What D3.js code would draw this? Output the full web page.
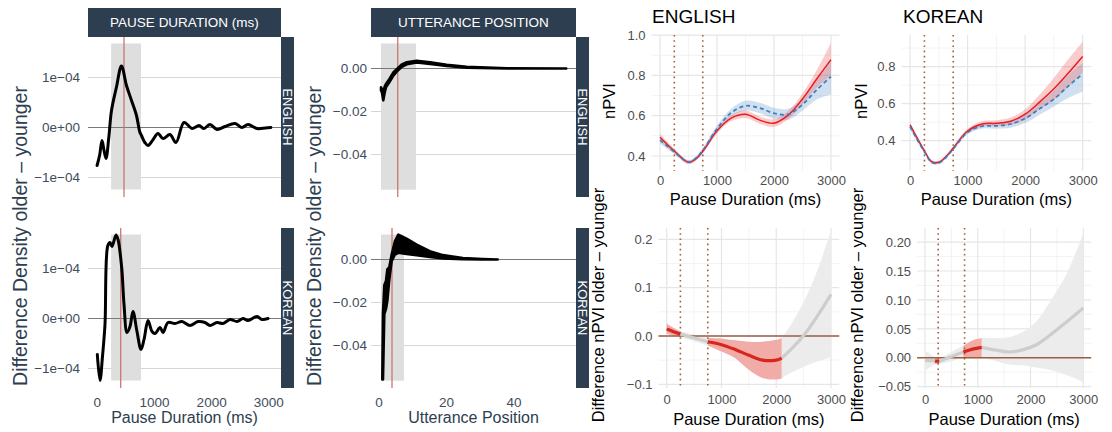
<!DOCTYPE html>
<html>
<head>
<meta charset="utf-8">
<script src="https://cdn.jsdelivr.net/npm/d3@7/dist/d3.min.js"></script>
<style>
html,body{margin:0;padding:0;background:#ffffff;}
svg{display:block;}
</style>
</head>
<body>
<script>
// ================= DATA =================
const languages = ["ENGLISH", "KOREAN"];
const densityStrips = ["PAUSE DURATION (ms)", "UTTERANCE POSITION"];
const densityYTitle = "Difference Density older – younger";
const diffYTitle = "Difference nPVI older – younger";
const npviYTitle = "nPVI";
const pdXTitle = "Pause Duration (ms)";
const upXTitle = "Utterance Position";

// Pause duration: density difference (older − younger)
const pdMsEN = [5, 50, 91, 125, 161, 210, 257, 344, 431, 519, 607, 694, 752, 781, 840, 896, 980, 1070, 1158, 1280, 1385, 1525, 1665, 1788, 1875, 1980, 2103, 2243, 2418, 2540, 2645, 2803, 2950, 3045];
const pdDiffEN = [-0.76e-4, -0.55e-4, -0.26e-4, -0.45e-4, -0.62e-4, -0.2e-4, 0.34e-4, 0.81e-4, 1.23e-4, 0.84e-4, 0.54e-4, 0.24e-4, -0.09e-4, -0.16e-4, -0.3e-4, -0.36e-4, -0.25e-4, -0.12e-4, -0.22e-4, -0.14e-4, -0.30e-4, 0.10e-4, -0.02e-4, 0.04e-4, -0.02e-4, 0.06e-4, -0.04e-4, 0.02e-4, 0.08e-4, 0.0, 0.06e-4, -0.02e-4, -0.01e-4, 0.0];
const pdMsKO = [9, 56, 100, 143, 191, 231, 266, 336, 371, 435, 476, 528, 581, 633, 703, 773, 826, 896, 966, 1019, 1106, 1158, 1246, 1368, 1490, 1630, 1770, 1893, 1980, 2103, 2208, 2330, 2453, 2558, 2645, 2802, 2890, 2995];
const pdDiffKO = [-0.72e-4, -1.24e-4, -0.75e-4, -0.12e-4, 1.45e-4, 1.52e-4, 1.44e-4, 1.67e-4, 1.58e-4, 1.02e-4, 0.28e-4, -0.28e-4, -0.16e-4, 0.14e-4, -0.26e-4, -0.62e-4, -0.42e-4, -0.04e-4, -0.26e-4, -0.30e-4, -0.18e-4, -0.28e-4, -0.08e-4, -0.1e-4, -0.06e-4, -0.14e-4, -0.06e-4, -0.08e-4, -0.14e-4, -0.08e-4, -0.1e-4, -0.02e-4, -0.06e-4, 0.0, -0.04e-4, 0.04e-4, -0.02e-4, 0.0];
const pdMarker = [476, 418];            // red vertical line (EN, KO)
const pdWindow = [250, 773];            // grey window (ms)
const pdWindowY = [-1.24e-4, 1.68e-4];

// Utterance position: density difference (upper / lower envelope of the jagged curve)
const upPosEN = [0.74, 1.0, 1.42, 1.8, 2.2, 3.2, 4.4, 5.4, 6.9, 8.4, 11.3, 15.3, 20.2, 26.1, 38, 55.6];
const upHiEN = [-0.0088, -0.0095, -0.0125, -0.0085, -0.0072, -0.005, -0.0019, -0.0003, 0.0019, 0.0029, 0.0036, 0.0029, 0.0017, 0.0008, 0.0001, 0];
const upLoEN = [-0.0102, -0.011, -0.0148, -0.0115, -0.0088, -0.0064, -0.0033, -0.0015, 0.0008, 0.0019, 0.0028, 0.0021, 0.0011, 0.0004, 0, 0];
const upPosKO = [1.13, 1.33, 1.72, 2.22, 2.62, 3.21, 3.9, 4.88, 5.87, 8.3, 11.3, 15.2, 19.1, 25, 30.9, 35.3];
const upHiKO = [-0.0557, -0.0254, -0.012, -0.010, -0.0046, -0.0035, 0.0023, 0.0085, 0.0115, 0.0097, 0.0069, 0.0038, 0.0020, 0.0006, 0.0002, 0];
const upLoKO = [-0.0557, -0.0557, -0.0254, -0.023, -0.0192, -0.0092, -0.0008, 0.0023, 0.0031, 0.0026, 0.0020, 0.0011, 0.0005, 0.0001, 0, 0];
const upMarker = [5.7, 4.0];
const upWindowEN = [0.75, 11.1];
const upWindowKO = [0.75, 7.55];
const upWindowY = [-0.0563, 0.0116];

// Tick values / labels (left block)
const pdYTicks = [-1e-4, 0, 1e-4];
const pdYLabels = ["−1e−04", "0e+00", "1e−04"];
const pdXTicks = [0, 1000, 2000, 3000];
const upYTicks = [-0.04, -0.02, 0];
const upYLabels = ["−0.04", "−0.02", "0.00"];
const upXTicks = [0, 20, 40];

// nPVI by pause duration (older = red solid, younger = blue dashed)
const npviMsEN = [0, 250, 500, 625, 750, 1000, 1250, 1500, 1750, 2000, 2250, 2500, 2750, 3000];
const npviOldEN = [0.493, 0.425, 0.369, 0.385, 0.423, 0.525, 0.588, 0.607, 0.578, 0.563, 0.603, 0.683, 0.782, 0.878];
const npviOldLoEN = [0.475, 0.413, 0.360, 0.376, 0.412, 0.510, 0.572, 0.588, 0.560, 0.545, 0.583, 0.655, 0.740, 0.800];
const npviOldHiEN = [0.510, 0.437, 0.378, 0.394, 0.434, 0.540, 0.604, 0.626, 0.596, 0.582, 0.623, 0.710, 0.825, 0.962];
const npviYoungEN = [0.479, 0.420, 0.370, 0.388, 0.428, 0.535, 0.615, 0.649, 0.638, 0.612, 0.607, 0.655, 0.728, 0.794];
const npviYoungLoEN = [0.462, 0.410, 0.360, 0.378, 0.415, 0.518, 0.595, 0.625, 0.612, 0.585, 0.580, 0.625, 0.680, 0.705];
const npviYoungHiEN = [0.496, 0.430, 0.380, 0.398, 0.440, 0.552, 0.635, 0.674, 0.664, 0.640, 0.635, 0.685, 0.776, 0.865];

const npviMsKO = [0, 250, 375, 500, 625, 750, 1000, 1250, 1500, 1750, 2000, 2250, 2500, 2750, 3000];
const npviOldKO = [0.485, 0.345, 0.287, 0.283, 0.314, 0.360, 0.452, 0.490, 0.494, 0.505, 0.543, 0.608, 0.680, 0.765, 0.855];
const npviOldLoKO = [0.470, 0.335, 0.279, 0.275, 0.305, 0.350, 0.440, 0.475, 0.478, 0.485, 0.515, 0.570, 0.620, 0.690, 0.770];
const npviOldHiKO = [0.500, 0.355, 0.295, 0.291, 0.323, 0.370, 0.465, 0.505, 0.510, 0.525, 0.570, 0.648, 0.740, 0.840, 0.935];
const npviYoungKO = [0.475, 0.340, 0.283, 0.280, 0.310, 0.355, 0.445, 0.478, 0.480, 0.490, 0.520, 0.572, 0.625, 0.695, 0.760];
const npviYoungLoKO = [0.460, 0.330, 0.275, 0.272, 0.301, 0.345, 0.435, 0.465, 0.465, 0.470, 0.495, 0.540, 0.585, 0.630, 0.665];
const npviYoungHiKO = [0.490, 0.350, 0.291, 0.288, 0.319, 0.365, 0.458, 0.492, 0.495, 0.510, 0.545, 0.605, 0.670, 0.755, 0.820];

// Difference nPVI (older − younger) with CI; sig = where the CI excludes zero
const diffMsEN = [0, 125, 250, 500, 750, 1000, 1250, 1500, 1750, 2000, 2100, 2250, 2500, 2750, 3000];
const diffEstEN = [0.0145, 0.009, 0.004, -0.004, -0.012, -0.018, -0.028, -0.040, -0.050, -0.050, -0.046, -0.030, 0.001, 0.041, 0.086];
const diffLoEN = [0.004, 0.001, -0.002, -0.011, -0.020, -0.032, -0.046, -0.070, -0.087, -0.090, -0.088, -0.077, -0.064, -0.053, -0.044];
const diffHiEN = [0.026, 0.017, 0.010, 0.003, -0.004, -0.005, -0.009, -0.012, -0.012, -0.008, -0.004, 0.020, 0.070, 0.135, 0.218];
const diffSigEN = [[0, 250], [750, 2100]];

const diffMsKO = [0, 95, 190, 230, 270, 500, 726, 900, 1074, 1358, 1610, 1862, 2100, 2367, 2683, 3000];
const diffEstKO = [-0.005, -0.005, -0.005, -0.006, -0.006, 0.002, 0.010, 0.015, 0.018, 0.013, 0.010, 0.014, 0.022, 0.039, 0.062, 0.086];
const diffLoKO = [-0.022, -0.017, -0.011, -0.011, -0.011, -0.006, 0.0005, 0.001, 0.001, -0.006, -0.012, -0.013, -0.017, -0.021, -0.030, -0.042];
const diffHiKO = [0.012, 0.007, 0.0005, -0.001, -0.001, 0.010, 0.021, 0.030, 0.034, 0.034, 0.036, 0.045, 0.062, 0.097, 0.145, 0.215];
const diffSigKO = [[190, 270], [726, 1074]];

const windowLines = [250, 750];   // dotted vertical lines

const msTicks = [0, 1000, 2000, 3000];
const msMinor = [500, 1500, 2500];
const npviTicksEN = [0.4, 0.6, 0.8, 1.0];
const npviLabelsEN = ["0.4", "0.6", "0.8", "1.0"];
const npviMinorEN = [0.5, 0.7, 0.9];
const npviTicksKO = [0.4, 0.6, 0.8];
const npviLabelsKO = ["0.4", "0.6", "0.8"];
const npviMinorKO = [0.3, 0.5, 0.7, 0.9];
const diffTicksEN = [-0.1, 0, 0.1, 0.2];
const diffLabelsEN = ["−0.1", "0.0", "0.1", "0.2"];
const diffMinorEN = [-0.05, 0.05, 0.15];
const diffTicksKO = [-0.05, 0, 0.05, 0.1, 0.15, 0.2];
const diffLabelsKO = ["−0.05", "0.00", "0.05", "0.10", "0.15", "0.20"];
const diffMinorKO = [-0.025, 0.025, 0.075, 0.125, 0.175];

// ================= STYLE =================
const FONT = '"Liberation Sans", Arial, Helvetica, sans-serif';
const SLATE = "#2c3e50";
const SLATE_TICK = "#3f4d5b";
const BROWN = "#a0603c";

const svg = d3.select("body").append("svg")
  .attr("width", 1112).attr("height", 432)
  .style("font-family", FONT);

function txt(x, y, s, o = {}) {
  const t = svg.append("text")
    .attr("x", x).attr("y", y).text(s)
    .attr("font-size", o.size || 13)
    .attr("fill", o.fill || "#000")
    .attr("text-anchor", o.anchor || "start")
    .attr("font-family", FONT);
  if (o.rot) t.attr("transform", `rotate(${o.rot},${x},${y})`);
  if (o.db) t.attr("dominant-baseline", o.db);
  return t;
}

function styleAxis(g, color, size) {
  g.select(".domain").remove();
  g.selectAll(".tick line").remove();
  g.selectAll("text").attr("fill", color).attr("font-size", size).attr("font-family", FONT);
}

// ================= LEFT BLOCK (density differences) =================
const colGeom = [
  { x0: 88, x1: 281, sx1: 294, yPad: 8, titleX: 27 },
  { x0: 371, x1: 576, sx1: 589, yPad: 4, titleX: 321 }
];
const rowGeom = [ { y0: 37, y1: 197 }, { y0: 228, y1: 388 } ];

const colDefs = [
  {
    xDom: [-154, 3222], yDom: [-1.39e-4, 1.81e-4],
    yTicks: pdYTicks, yLabels: pdYLabels, xTicks: pdXTicks, xTitle: pdXTitle,
    rows: [
      { win: pdWindow, marker: pdMarker[0], draw: (g, x, y) => drawLine(g, x, y, pdMsEN, pdDiffEN) },
      { win: pdWindow, marker: pdMarker[1], draw: (g, x, y) => drawLine(g, x, y, pdMsKO, pdDiffKO) }
    ], winY: pdWindowY
  },
  {
    xDom: [-2.22, 58.5], yDom: [-0.0597, 0.0146],
    yTicks: upYTicks, yLabels: upYLabels, xTicks: upXTicks, xTitle: upXTitle,
    rows: [
      { win: upWindowEN, marker: upMarker[0], draw: (g, x, y) => drawBand(g, x, y, upPosEN, upLoEN, upHiEN) },
      { win: upWindowKO, marker: upMarker[1], draw: (g, x, y) => drawBand(g, x, y, upPosKO, upLoKO, upHiKO) }
    ], winY: upWindowY
  }
];

function drawLine(g, x, y, xs, ys) {
  const line = d3.line().x((d, i) => x(xs[i])).y(d => y(d)).curve(d3.curveCatmullRom.alpha(0.5));
  g.append("path").attr("d", line(ys)).attr("fill", "none")
    .attr("stroke", "#000").attr("stroke-width", 3).attr("stroke-linejoin", "round").attr("stroke-linecap", "round");
}
function drawBand(g, x, y, xs, lo, hi) {
  const area = d3.area().x((d, i) => x(xs[i])).y0((d, i) => y(lo[i])).y1((d, i) => y(hi[i]));
  g.append("path").attr("d", area(xs)).attr("fill", "#000")
    .attr("stroke", "#000").attr("stroke-width", 2.6).attr("stroke-linejoin", "round");
}

colDefs.forEach((cd, ci) => {
  const cg = colGeom[ci];
  // top strip
  svg.append("rect").attr("x", cg.x0).attr("y", 8).attr("width", cg.x1 - cg.x0).attr("height", 29).attr("fill", SLATE);
  txt((cg.x0 + cg.x1) / 2, 27, densityStrips[ci], { fill: "#ffffff", anchor: "middle", size: 13.5 });
  const x = d3.scaleLinear().domain(cd.xDom).range([cg.x0, cg.x1]);
  rowGeom.forEach((rg, ri) => {
    const y = d3.scaleLinear().domain(cd.yDom).range([rg.y1, rg.y0]);
    const rd = cd.rows[ri];
    const g = svg.append("g");
    g.selectAll("line.grid").data(cd.yTicks).join("line").attr("class", "grid")
      .attr("x1", cg.x0).attr("x2", cg.x1).attr("y1", d => y(d)).attr("y2", d => y(d))
      .attr("stroke", "#d6d6d6").attr("stroke-width", 1);
    g.append("rect").attr("x", x(rd.win[0])).attr("width", x(rd.win[1]) - x(rd.win[0]))
      .attr("y", y(cd.winY[1])).attr("height", y(cd.winY[0]) - y(cd.winY[1])).attr("fill", "#dedede");
    g.append("line").attr("x1", cg.x0).attr("x2", cg.x1).attr("y1", y(0)).attr("y2", y(0))
      .attr("stroke", "#7a7a7a").attr("stroke-width", 1.1);
    g.append("line").attr("x1", x(rd.marker)).attr("x2", x(rd.marker)).attr("y1", rg.y0).attr("y2", rg.y1)
      .attr("stroke", "#c9786d").attr("stroke-width", 1.3);
    rd.draw(g, x, y);
    // right strip
    svg.append("rect").attr("x", cg.x1).attr("y", rg.y0).attr("width", cg.sx1 - cg.x1).attr("height", rg.y1 - rg.y0).attr("fill", SLATE);
    txt((cg.x1 + cg.sx1) / 2, (rg.y0 + rg.y1) / 2, languages[ri], { fill: "#ffffff", anchor: "middle", size: 13, rot: 90, db: "central" });
    // y axis
    const ay = svg.append("g").attr("transform", `translate(${cg.x0},0)`)
      .call(d3.axisLeft(y).tickValues(cd.yTicks).tickFormat((d, i) => cd.yLabels[i]).tickSize(0).tickPadding(cg.yPad));
    styleAxis(ay, SLATE_TICK, 13.5);
    if (ri === 1) {
      const ax = svg.append("g").attr("transform", `translate(0,${rg.y1})`)
        .call(d3.axisBottom(x).tickValues(cd.xTicks).tickFormat(d3.format("d")).tickSize(0).tickPadding(9));
      styleAxis(ax, SLATE_TICK, 13.5);
    }
  });
  txt((cg.x0 + cg.x1) / 2, 423, cd.xTitle, { fill: SLATE, anchor: "middle", size: 16 });
  txt(cg.titleX, 236, densityYTitle, { fill: SLATE, anchor: "middle", size: 19.5, rot: -90 });
});

// ================= RIGHT BLOCK (nPVI) =================
function rows(ms, a, b, c) { return ms.map((m, i) => ({ m, est: a[i], lo: b[i], hi: c[i] })); }

function rightPanel(p) {
  const x = d3.scaleLinear().domain(p.xDom).range([p.x0, p.x1]);
  const y = d3.scaleLinear().domain(p.yDom).range([p.y1, p.y0]);
  const g = svg.append("g");
  const hl = (vals, col, w) => g.append("g").selectAll("line").data(vals).join("line")
    .attr("x1", p.x0).attr("x2", p.x1).attr("y1", d => y(d)).attr("y2", d => y(d)).attr("stroke", col).attr("stroke-width", w);
  const vl = (vals, col, w) => g.append("g").selectAll("line").data(vals).join("line")
    .attr("y1", p.y0).attr("y2", p.y1).attr("x1", d => x(d)).attr("x2", d => x(d)).attr("stroke", col).attr("stroke-width", w);
  hl(p.yMinor, "#f0f0f0", 0.8); vl(msMinor, "#f0f0f0", 0.8);
  hl(p.yTicks, "#e6e6e6", 1.2); vl(msTicks, "#e6e6e6", 1.2);
  p.draw(g, x, y);
  const ay = svg.append("g").attr("transform", `translate(${p.x0},0)`)
    .call(d3.axisLeft(y).tickValues(p.yTicks).tickFormat((d, i) => p.yLabels[i]).tickSize(0).tickPadding(6));
  styleAxis(ay, "#4d4d4d", 13);
  const ax = svg.append("g").attr("transform", `translate(0,${p.y1})`)
    .call(d3.axisBottom(x).tickValues(msTicks).tickFormat(d3.format("d")).tickSize(0).tickPadding(p.xPad));
  styleAxis(ax, "#4d4d4d", 13);
  txt((p.x0 + p.x1) / 2, p.xTitleY, pdXTitle, { anchor: "middle", size: 16.5 });
  txt(p.yTitleX, p.yTitleY, p.yTitle, { anchor: "middle", size: 16.5, rot: -90 });
  return { x, y };
}

function dotted(g, x, y0, y1) {
  g.append("g").selectAll("line").data(windowLines).join("line")
    .attr("x1", d => x(d)).attr("x2", d => x(d)).attr("y1", y0).attr("y2", y1)
    .attr("stroke", BROWN).attr("stroke-width", 1.6).attr("stroke-dasharray", "1.6,3.6");
}

function drawNpvi(g, x, y, ms, o, oLo, oHi, yo, yLo, yHi, p) {
  const R = rows(ms, o, oLo, oHi), B = rows(ms, yo, yLo, yHi);
  const area = d3.area().x(d => x(d.m)).y0(d => y(d.lo)).y1(d => y(d.hi)).curve(d3.curveCatmullRom);
  const line = d3.line().x(d => x(d.m)).y(d => y(d.est)).curve(d3.curveCatmullRom);
  g.append("path").attr("d", area(B)).attr("fill", "#4a86c5").attr("fill-opacity", 0.26);
  g.append("path").attr("d", area(R)).attr("fill", "#ec4a4a").attr("fill-opacity", 0.28);
  dotted(g, x, p.y0, p.y1);
  g.append("path").attr("d", line(R)).attr("fill", "none").attr("stroke", "#ea1c22").attr("stroke-width", 1.5);
  g.append("path").attr("d", line(B)).attr("fill", "none").attr("stroke", "#3a7dc1").attr("stroke-width", 1.7).attr("stroke-dasharray", "4,3");
}

function drawDiff(g, x, y, ms, est, lo, hi, sig, p) {
  const R = rows(ms, est, lo, hi);
  const first = ms[0], last = ms[ms.length - 1];
  const non = [];
  let cur = first;
  sig.forEach(s => { if (s[0] > cur) non.push([cur, s[0]]); cur = s[1]; });
  if (cur < last) non.push([cur, last]);
  const seg = r => R.filter(d => d.m >= r[0] && d.m <= r[1]);
  const area = d3.area().x(d => x(d.m)).y0(d => y(d.lo)).y1(d => y(d.hi)).curve(d3.curveCatmullRom);
  const line = d3.line().x(d => x(d.m)).y(d => y(d.est)).curve(d3.curveCatmullRom);
  non.forEach(r => g.append("path").attr("d", area(seg(r))).attr("fill", "#ececec"));
  sig.forEach(r => g.append("path").attr("d", area(seg(r))).attr("fill", "#f2aca7"));
  g.append("line").attr("x1", p.x0).attr("x2", p.x1).attr("y1", y(0)).attr("y2", y(0))
    .attr("stroke", "#9a5f3f").attr("stroke-width", 1.3);
  dotted(g, x, p.y0, p.y1);
  non.forEach(r => g.append("path").attr("d", line(seg(r))).attr("fill", "none").attr("stroke", "#cdcdcd").attr("stroke-width", 3.2));
  sig.forEach(r => g.append("path").attr("d", line(seg(r))).attr("fill", "none").attr("stroke", "#d7261e").attr("stroke-width", 3.2));
}

const pEN = { x0: 651.5, x1: 839.5, y0: 35, y1: 171, xDom: [-150, 3150], yDom: [0.3256, 1.0005],
  yTicks: npviTicksEN, yLabels: npviLabelsEN, yMinor: npviMinorEN, xPad: 5, xTitleY: 205,
  yTitle: npviYTitle, yTitleX: 615, yTitleY: 101 };
pEN.draw = (g, x, y) => drawNpvi(g, x, y, npviMsEN, npviOldEN, npviOldLoEN, npviOldHiEN, npviYoungEN, npviYoungLoEN, npviYoungHiEN, pEN);
rightPanel(pEN);

const pKO = { x0: 901.4, x1: 1091.3, y0: 35, y1: 171, xDom: [-150, 3150], yDom: [0.236, 0.971],
  yTicks: npviTicksKO, yLabels: npviLabelsKO, yMinor: npviMinorKO, xPad: 5, xTitleY: 205,
  yTitle: npviYTitle, yTitleX: 867, yTitleY: 101 };
pKO.draw = (g, x, y) => drawNpvi(g, x, y, npviMsKO, npviOldKO, npviOldLoKO, npviOldHiKO, npviYoungKO, npviYoungLoKO, npviYoungHiKO, pKO);
rightPanel(pKO);

const dEN = { x0: 658.5, x1: 839.2, y0: 228, y1: 388, xDom: [-150, 3150], yDom: [-0.1077, 0.2236],
  yTicks: diffTicksEN, yLabels: diffLabelsEN, yMinor: diffMinorEN, xPad: 7, xTitleY: 425,
  yTitle: diffYTitle, yTitleX: 604, yTitleY: 305 };
dEN.draw = (g, x, y) => drawDiff(g, x, y, diffMsEN, diffEstEN, diffLoEN, diffHiEN, diffSigEN, dEN);
rightPanel(dEN);

const dKO = { x0: 917.1, x1: 1091.2, y0: 228, y1: 388, xDom: [-150, 3150], yDom: [-0.0523, 0.2244],
  yTicks: diffTicksKO, yLabels: diffLabelsKO, yMinor: diffMinorKO, xPad: 7, xTitleY: 425,
  yTitle: diffYTitle, yTitleX: 863, yTitleY: 305 };
dKO.draw = (g, x, y) => drawDiff(g, x, y, diffMsKO, diffEstKO, diffLoKO, diffHiKO, diffSigKO, dKO);
rightPanel(dKO);

txt(652, 23, languages[0], { size: 19 });
txt(903, 23, languages[1], { size: 19 });
</script>
</body>
</html>
